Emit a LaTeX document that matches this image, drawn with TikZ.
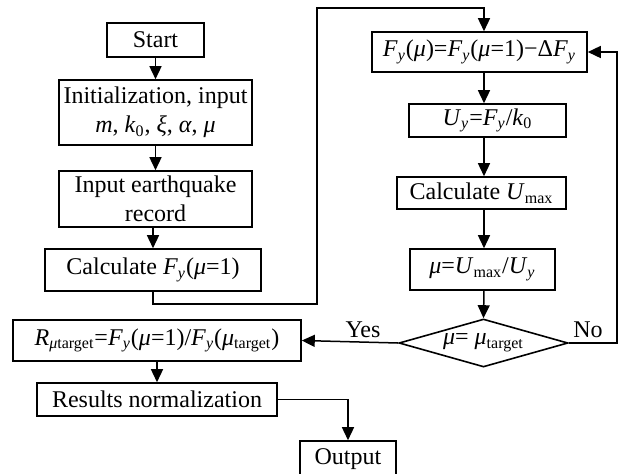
\documentclass[tikz,border=0pt]{standalone}
\usepackage{fontspec}
\setmainfont{Liberation Serif}
\usepackage{tikz}
\usetikzlibrary{positioning,arrows.meta,shapes.geometric}
\newcommand{\vr}[1]{\textit{#1}}
\newcommand{\sbt}[1]{\textsubscript{#1}}
\newcommand{\Fy}{\vr{F}\sbt{\vr{y}}}
\newcommand{\Uy}{\vr{U}\sbt{\vr{y}}}
\newcommand{\mueq}{\vr{μ}=1}
\tikzset{
  flow/.style={-{Triangle[length=6.5pt,width=6pt]}, line width=0.75pt},
  box/.style={rectangle, draw, line width=0.8pt, align=center, inner sep=1pt, font=\fontsize{12}{14.5}\selectfont},
  dec/.style={diamond, draw, line width=0.8pt, aspect=3.5, inner sep=0pt, font=\fontsize{12}{14.5}\selectfont},
  lbl/.style={font=\fontsize{12}{14.5}\selectfont}
}
\begin{document}
\begin{tikzpicture}[x=0.5pt,y=-0.5pt]
\useasboundingbox (0,0) rectangle (618,473);
\node[box, minimum width=48.5pt, minimum height=17pt] (start) at (155.5,40) {Start};
\node[box, minimum width=96.5pt, minimum height=32.5pt] (init) at (155.5,112.5) {Initialization, input\\ \vr{m}, \vr{k}\sbt{0}, \vr{ξ}, \vr{α}, \vr{μ}};
\node[box, minimum width=96.5pt, minimum height=28pt] (quake) at (155.5,199) {Input earthquake\\ record};
\node[box, minimum width=108pt, minimum height=21pt] (calcF) at (153,270) {Calculate \Fy(\mueq)};
\node[box, minimum width=107.5pt, minimum height=20pt] (fmu) at (479.5,52) {\Fy(\vr{μ})=\Fy(\mueq)−Δ\Fy};
\node[box, minimum width=78.5pt, minimum height=16.5pt] (uy) at (487.5,120.5) {\Uy=\Fy/\vr{k}\sbt{0}};
\node[box, minimum width=84.5pt, minimum height=16pt] (umax) at (481.5,193) {Calculate \vr{U}\sbt{max}};
\node[box, minimum width=72.5pt, minimum height=20.5pt] (mu) at (482.5,269.5) {\vr{μ}=\vr{U}\sbt{max}/\Uy};
\node[dec, minimum width=84.5pt, minimum height=24pt] (check) at (483.5,343) {\vr{μ}= \vr{μ}\sbt{target}};
\node[box, minimum width=144pt, minimum height=20.5pt] (ratio) at (157,340.5) {\vr{R}\sbt{\vr{μ}target}=\Fy(\mueq)/\Fy(\vr{μ}\sbt{target})};
\node[box, minimum width=120pt, minimum height=16.5pt] (norm) at (157,399.5) {Results normalization};
\node[box, minimum width=48pt, minimum height=18pt] (out) at (348,459) {Output};
\node[lbl] (yes) at (363,330) {Yes};
\node[lbl] (no) at (588,330) {No};
\coordinate (col) at (484,0);
\coordinate (bendL) at (317,304);
\coordinate (topL) at (317,8);
\coordinate (noC) at (617,200);
\draw[flow] (start) -- (init);
\draw[flow] (init) -- (quake);
\draw[flow] (quake.south -| calcF.north) -- (calcF.north);
\draw[flow] (calcF.south) |- (bendL) -- (topL) -| (fmu.north -| col);
\draw[flow] (fmu.south -| col) -- (uy.north -| col);
\draw[flow] (uy.south -| col) -- (umax.north -| col);
\draw[flow] (umax.south -| col) -- (mu.north -| col);
\draw[flow] (mu.south -| col) -- (check.north);
\draw[flow] (check.west) -- (ratio.east);
\draw[flow] (check.east) -| (noC) |- (fmu.east);
\draw[flow] (ratio) -- (norm);
\draw[flow] (norm.east) -| (out.north);
\end{tikzpicture}
\end{document}
